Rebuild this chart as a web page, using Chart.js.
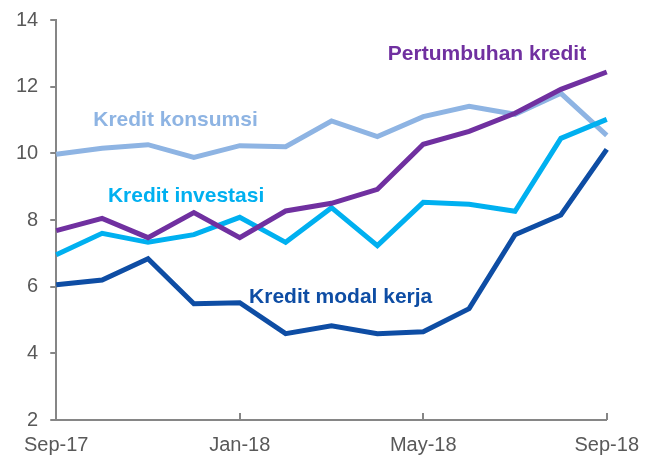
<!DOCTYPE html>
<html lang="id">
    <head>
        <title>Pertumbuhan Kredit</title>
        <meta charset="UTF-8">
        <style>
            body { margin: 0; background: #ffffff; }
            #wrap { width: 652px; height: 457px; }
        </style>
    </head>
    <body>
        <div id="wrap"><canvas id="kChart"></canvas></div>
        <script src="https://cdn.jsdelivr.net/npm/chart.js@4/dist/chart.umd.min.js"></script>
        <script>
            // data (percent, yoy)
            let months = ["Sep-17", "Oct-17", "Nov-17", "Dec-17", "Jan-18", "Feb-18", "Mar-18",
                          "Apr-18", "May-18", "Jun-18", "Jul-18", "Aug-18", "Sep-18"];
            let pertumbuhan = [7.68, 8.05, 7.47, 8.22, 7.47, 8.27, 8.5, 8.92, 10.27, 10.66, 11.2, 11.92, 12.44];
            let konsumsi    = [9.97, 10.15, 10.26, 9.88, 10.23, 10.2, 10.97, 10.5, 11.1, 11.41, 11.17, 11.8, 10.54];
            let investasi   = [6.96, 7.6, 7.33, 7.56, 8.08, 7.33, 8.37, 7.23, 8.53, 8.47, 8.26, 10.45, 11.02];
            let modalKerja  = [6.06, 6.2, 6.84, 5.49, 5.52, 4.59, 4.83, 4.59, 4.65, 5.34, 7.56, 8.15, 10.12];
            let yTicks = [2, 14, 2]; // min, max, step

            // series name labels: [text, colour, x index, y value]
            let seriesLabels = [
                ["Pertumbuhan kredit", "#7030A0", 9.39, 12.98],
                ["Kredit konsumsi", "#8EB4E3", 2.6, 11.0],
                ["Kredit investasi", "#00B0F0", 2.83, 8.71],
                ["Kredit modal kerja", "#0E4DA4", 6.2, 5.67]
            ];

            let axisGrey = "#868686";
            let textGrey = "#595959";

            let labelPlugin = {
                id: "seriesLabels",
                afterDraw: function (chart) {
                    let ctx = chart.ctx;
                    let xs = chart.scales.x;
                    let ys = chart.scales.y;
                    // short tick marks pointing up into the plot
                    ctx.save();
                    ctx.strokeStyle = axisGrey;
                    ctx.lineWidth = 2;
                    for (let i = 4; i < months.length; i += 4) {
                        let px = Math.round(xs.getPixelForValue(i));
                        ctx.beginPath();
                        ctx.moveTo(px, ys.bottom);
                        ctx.lineTo(px, ys.bottom - 7);
                        ctx.stroke();
                    }
                    ctx.font = "bold 21px 'Liberation Sans', Arial, sans-serif";
                    ctx.textAlign = "center";
                    ctx.textBaseline = "middle";
                    seriesLabels.forEach(function (l) {
                        let x0 = xs.getPixelForValue(0);
                        let step = xs.getPixelForValue(1) - x0;
                        ctx.fillStyle = l[1];
                        ctx.fillText(l[0], x0 + l[2] * step, ys.getPixelForValue(l[3]));
                    });
                    ctx.restore();
                }
            };

            function line(data, colour) {
                return {
                    data: data,
                    borderColor: colour,
                    borderWidth: 5,
                    borderJoinStyle: "miter",
                    pointRadius: 0,
                    tension: 0,
                    fill: false
                };
            }

            let chartElement = new Chart("kChart", {
                type: "line",
                data: {
                    labels: months,
                    datasets: [
                        line(pertumbuhan, "#7030A0"),
                        line(modalKerja, "#0E4DA4"),
                        line(investasi, "#00B0F0"),
                        line(konsumsi, "#8EB4E3")
                    ]
                },
                options: {
                    responsive: true,
                    maintainAspectRatio: false,
                    animation: false,
                    layout: { padding: { left: 4, right: 14, top: 20, bottom: 0 } },
                    plugins: {
                        legend: { display: false },
                        tooltip: { enabled: false }
                    },
                    scales: {
                        x: {
                            border: { color: axisGrey, width: 2 },
                            grid: { display: false, drawTicks: false },
                            afterFit: function (s) { s.height = 37; },
                            ticks: {
                                autoSkip: false,
                                maxRotation: 0,
                                padding: 13,
                                color: textGrey,
                                font: { size: 20, family: "'Liberation Sans', Arial, sans-serif" },
                                callback: function (v, i) { return i % 4 === 0 ? months[i] : ""; }
                            }
                        },
                        y: {
                            min: yTicks[0],
                            max: yTicks[1],
                            border: { color: axisGrey, width: 2 },
                            grid: { drawOnChartArea: false, color: axisGrey, lineWidth: 2, tickLength: 6 },
                            afterFit: function (s) { s.paddingTop = 0; s.paddingBottom = 0; },
                            ticks: {
                                stepSize: yTicks[2],
                                padding: 12,
                                color: textGrey,
                                font: { size: 20, family: "'Liberation Sans', Arial, sans-serif" }
                            }
                        }
                    }
                },
                plugins: [labelPlugin]
            });
        </script>
    </body>
</html>
